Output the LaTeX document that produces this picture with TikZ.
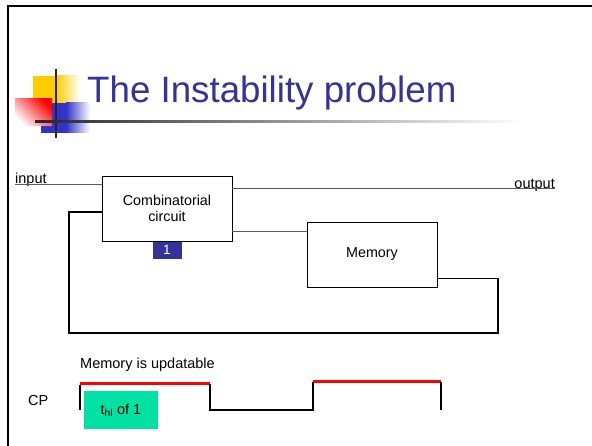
\documentclass[tikz,border=0pt]{standalone}
\usepackage{fontspec}
\setmainfont{Liberation Sans}
\usepackage{xcolor}
\usepackage{tikz}
\usetikzlibrary{positioning}

\definecolor{titleblue}{HTML}{333399}
\definecolor{logoblue}{HTML}{3333CC}
\definecolor{logoyellow}{HTML}{FFCC00}
\definecolor{mint}{HTML}{00E2A4}
\definecolor{wiregray}{HTML}{5A5A5A}

\begin{document}
\begin{tikzpicture}[x=1pt, y=-1pt,
        box/.style={draw, line width=0.9pt, minimum width=130pt, minimum height=65pt,
            inner sep=0pt, align=center, font=\fontsize{14.3}{16.5}\selectfont},
        lbl/.style={inner sep=0pt, font=\fontsize{14.5}{17}\selectfont},
        wire/.style={draw=wiregray, line width=0.9pt},
        fb/.style={draw, line width=1.8pt},
        clk/.style={line width=1.8pt, line join=miter},
        hi/.style={red, line width=3pt}]

        \useasboundingbox (0,0) rectangle (592,446);

        % Slide frame
        \draw[line width=2pt] (8,446) -- (8,6) -- (592,6);

        % Logo
        \fill[logoyellow] (33,76) rectangle (56,103);
        \shade[left color=logoyellow, right color=white] (56,76) rectangle (80,103);
        \fill[logoblue] (41,103) rectangle (66,133);
        \shade[left color=logoblue, right color=white] (66,103) rectangle (90,133);
        \shade[top color=red, bottom color=white, shading angle=-45] (15,99) rectangle (52,126);
        \draw[line width=1.5pt, black!85] (56,69) -- (56,138);
        \shade[left color=black!85, middle color=black!55, right color=white] (35,120.5) rectangle (523,122.5);

        % Title
        \node[anchor=base west, inner sep=0pt, text=titleblue, font=\fontsize{36.7}{40}\selectfont]
            (title) at (87,103) {The Instability problem};

        % Add components
        \node[box] (comb) at (167,208.5) {Combinatorial\\circuit};
        \node[box] (mem) at (372,254.5) {Memory};
        \node[fill=titleblue, text=white, minimum width=29pt, minimum height=17pt, inner sep=0pt,
            font=\fontsize{13.5}{15}\selectfont, below=0pt of comb] (one) {1};

        % Add labels
        \node[lbl, anchor=base west] (inp) at (15,184) {input};
        \node[lbl, anchor=base east] (outp) at (555,188.5) {output};

        % Wires
        \draw[wire] (inp.base west) -- (inp.base west -| comb.west);
        \draw[wire] (comb.east |- outp.base east) -- (outp.base east);
        \path (comb.south east) ++(0,-10) coordinate (c2m);
        \draw[wire] (c2m) -- (c2m -| mem.west);

        % Feedback loop
        \path (mem.south east) ++(0,-9) coordinate (m2c);
        \path (comb.west) ++(0,3.5) coordinate (cin);
        \coordinate (fbr) at (498,333);
        \coordinate (fbl) at (69,333);
        \draw[fb] (m2c) -| (fbr) -- (fbl) |- (cin);

        % Clock
        \node[lbl, anchor=base west] (upd) at (80,369) {Memory is updatable};
        \node[lbl, anchor=base west] (cp) at (28,406) {CP};
        \draw[clk] (80,410) -- (80,385);
        \draw[hi] (80,384) -- (210,384);
        \draw[clk] (210,384) -- (210,410) -- (313,410) -- (313,382);
        \draw[hi] (313,382) -- (441,382);
        \draw[clk] (441,382) -- (441,410);
        \node[fill=mint, minimum width=74.5pt, minimum height=37pt, inner sep=0pt,
            font=\fontsize{14.5}{16}\selectfont] (thl) at (121,410) {t\textsubscript{hl} of 1};
    \end{tikzpicture}
\end{document}
